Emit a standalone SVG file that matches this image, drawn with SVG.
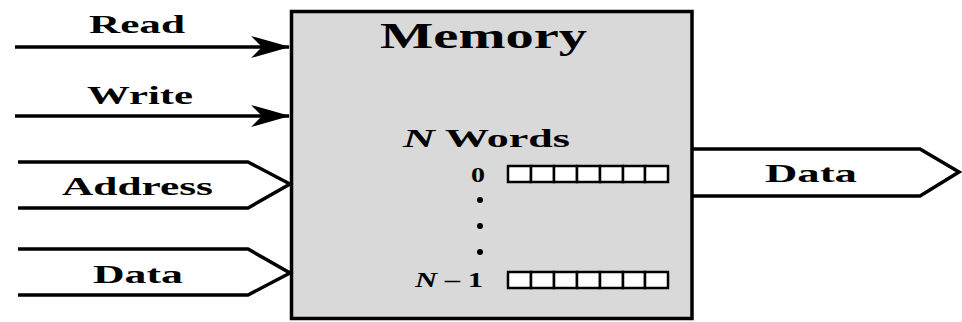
<svg xmlns="http://www.w3.org/2000/svg" width="962" height="322" viewBox="0 0 962 322">
<style>
.lbl{font-family:"Liberation Serif","Times New Roman",serif;font-weight:bold;fill:#000}
.wire{fill:none;stroke:#000;stroke-width:3.5}
.cell{fill:#fff;stroke:#000;stroke-width:2.5}
</style>
<defs>
<marker id="arr" viewBox="-40 -12 42 24" refX="0" refY="0" markerWidth="42" markerHeight="24" markerUnits="userSpaceOnUse" orient="auto">
<path d="M1,0 Q-20,-6 -38,-11 L-27,0 L-38,11 Q-20,6 1,0 Z" fill="#000"/>
</marker>
</defs>
<rect width="962" height="322" fill="#fff"/>
<g id="memory">
<rect x="291.5" y="11.5" width="400.5" height="307" fill="#d9d9d9" stroke="#000" stroke-width="3.5"/>
<text class="lbl" x="380" y="48" font-size="35" textLength="207" lengthAdjust="spacingAndGlyphs">Memory</text>
<text class="lbl" x="403" y="147" font-size="25" textLength="167" lengthAdjust="spacingAndGlyphs"><tspan font-style="italic">N</tspan> Words</text>
<text class="lbl" x="471" y="182" font-size="21" textLength="14" lengthAdjust="spacingAndGlyphs">0</text>
<text class="lbl" x="415" y="287" font-size="20" textLength="68" lengthAdjust="spacingAndGlyphs"><tspan font-style="italic">N</tspan> – 1</text>
<circle cx="480" cy="200" r="3"/>
<circle cx="480" cy="226" r="3"/>
<circle cx="480" cy="252" r="3"/>
<g id="word0">
<rect class="cell" x="508" y="166" width="23" height="16"/>
<rect class="cell" x="531" y="166" width="23" height="16"/>
<rect class="cell" x="554" y="166" width="23" height="16"/>
<rect class="cell" x="577" y="166" width="23" height="16"/>
<rect class="cell" x="600" y="166" width="23" height="16"/>
<rect class="cell" x="623" y="166" width="22" height="16"/>
<rect class="cell" x="645" y="166" width="23" height="16"/>
</g>
<g id="wordN1">
<rect class="cell" x="508" y="272" width="23" height="16"/>
<rect class="cell" x="531" y="272" width="23" height="16"/>
<rect class="cell" x="554" y="272" width="23" height="16"/>
<rect class="cell" x="577" y="272" width="23" height="16"/>
<rect class="cell" x="600" y="272" width="23" height="16"/>
<rect class="cell" x="623" y="272" width="22" height="16"/>
<rect class="cell" x="645" y="272" width="23" height="16"/>
</g>
</g>
<g id="connectors">
<path class="wire" d="M15,47 H289" marker-end="url(#arr)"/>
<path class="wire" d="M15,116 H289" marker-end="url(#arr)"/>
<path class="wire" d="M18,162 H248 L290,184 L248,208 H18"/>
<path class="wire" d="M18,249 H248 L290,273 L248,295 H18"/>
<path class="wire" d="M693,149 H920 L959,172 L920,196 H693"/>
</g>
<g id="labels">
<text class="lbl" x="89" y="33" font-size="25" textLength="96" lengthAdjust="spacingAndGlyphs">Read</text>
<text class="lbl" x="87" y="104" font-size="25" textLength="106" lengthAdjust="spacingAndGlyphs">Write</text>
<text class="lbl" x="62" y="195" font-size="25" textLength="151" lengthAdjust="spacingAndGlyphs">Address</text>
<text class="lbl" x="93" y="283" font-size="25" textLength="90" lengthAdjust="spacingAndGlyphs">Data</text>
<text class="lbl" x="765" y="182" font-size="25" textLength="92" lengthAdjust="spacingAndGlyphs">Data</text>
</g>
</svg>
